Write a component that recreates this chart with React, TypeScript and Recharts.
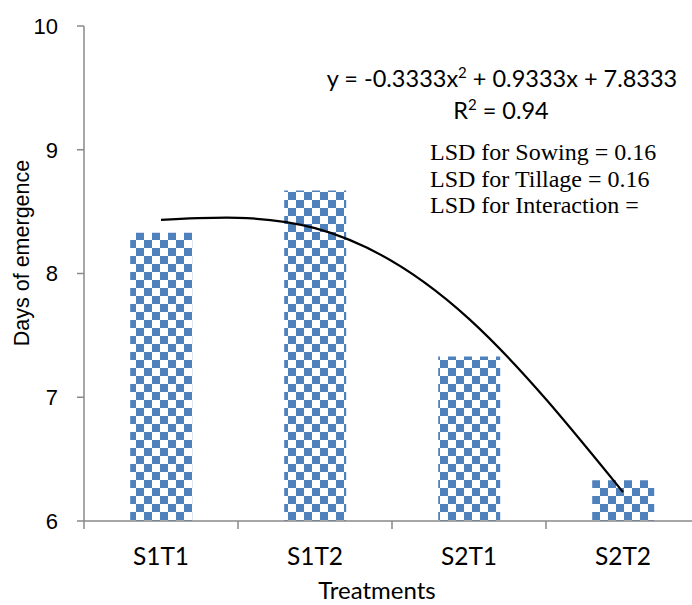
import React from 'react';
import {
  ComposedChart,
  Bar,
  Line,
  XAxis,
  YAxis,
  Customized,
} from 'recharts';

// treatment combinations (sowing x tillage)
const treatments = ['S1T1', 'S1T2', 'S2T1', 'S2T2'];
// mean days to emergence
const daysToEmergence = [8.33, 8.67, 7.33, 6.33];
// polynomial trend y = -0.3333x² + 0.9333x + 7.8333 at x = 1..4
const trendValues = [8.4333, 8.3667, 7.6333, 6.2333];
const yTicks = [6, 7, 8, 9, 10];

const lsdLines = [
  'LSD for Sowing = 0.16',
  'LSD for Tillage = 0.16',
  'LSD for Interaction =',
];

const data = treatments.map((name, i) => ({
  name,
  days: daysToEmergence[i],
  trend: trendValues[i],
}));

const CHART_W = 720;
const CHART_H = 605;
const Y_AXIS_W = 84;
const MARGIN = { top: 26, right: 20, left: 0, bottom: 0 };
const BAND = (CHART_W - Y_AXIS_W - MARGIN.left - MARGIN.right) / treatments.length;

const AXIS_GREY = '#898989';
const BAR_BLUE = '#4F81BD';
const SANS = 'Lato, "Open Sans", sans-serif';
const ARIAL = '"Liberation Sans", Arial, sans-serif';
const SERIF = '"Liberation Serif", "Times New Roman", serif';

// category label centred in its band, tick marks on the band edges
const CategoryTick = (props: any) => {
  const { x, y, payload, index, visibleTicksCount } = props;
  const left = x - BAND / 2;
  const isLast = index === visibleTicksCount - 1;
  return (
    <g>
      <line x1={left} y1={y} x2={left} y2={y + 8} stroke={AXIS_GREY} strokeWidth={1.5} />
      {isLast && (
        <line x1={left + BAND} y1={y} x2={left + BAND} y2={y + 8} stroke={AXIS_GREY} strokeWidth={1.5} />
      )}
      <text x={x} y={y + 44} textAnchor="middle" fontFamily={SANS} fontSize={24.5} fill="#000">
        {payload.value}
      </text>
    </g>
  );
};

const Annotations = () => (
  <g>
    <text x={502} y={87} textAnchor="middle" fontFamily={SANS} fontSize={23.5} fill="#000">
      y = -0.3333x<tspan fontSize={15} dy={-9}>2</tspan>
      <tspan dy={9}> + 0.9333x + 7.8333</tspan>
    </text>
    <text x={501} y={119} textAnchor="middle" fontFamily={SANS} fontSize={23.5} fill="#000">
      R<tspan fontSize={15} dy={-9}>2</tspan>
      <tspan dy={9}> = 0.94</tspan>
    </text>
    {lsdLines.map((t, i) => (
      <text key={t} x={430} y={160 + i * 26.5} fontFamily={SERIF} fontSize={24} fill="#000">
        {t}
      </text>
    ))}
    <text
      x={22}
      y={253}
      transform="rotate(-90 22 253)"
      textAnchor="middle"
      dominantBaseline="central"
      fontFamily={ARIAL}
      fontSize={21.5}
      fill="#000"
    >
      Days of emergence
    </text>
    <text x={377} y={599} textAnchor="middle" fontFamily={SANS} fontSize={24} fill="#000">
      Treatments
    </text>
  </g>
);

export default function App() {
  return (
    <div
      style={{
        position: 'fixed',
        left: 0,
        top: 0,
        width: 692,
        height: 605,
        overflow: 'hidden',
        background: '#fff',
      }}
    >
      <ComposedChart width={CHART_W} height={CHART_H} data={data} margin={MARGIN} barCategoryGap="30%">
        <defs>
          <pattern id="checker" width={16} height={16} patternUnits="userSpaceOnUse">
            <rect width={16} height={16} fill="#fff" />
            <rect x={0} y={0} width={8} height={8} fill={BAR_BLUE} />
            <rect x={8} y={8} width={8} height={8} fill={BAR_BLUE} />
          </pattern>
        </defs>
        <XAxis
          dataKey="name"
          height={CHART_H - MARGIN.top - 495}
          axisLine={{ stroke: AXIS_GREY, strokeWidth: 1.5 }}
          tickLine={false}
          tickSize={0}
          tickMargin={0}
          tick={<CategoryTick />}
          interval={0}
        />
        <YAxis
          width={Y_AXIS_W}
          domain={[6, 10]}
          ticks={yTicks}
          allowDataOverflow
          axisLine={{ stroke: AXIS_GREY, strokeWidth: 1.5 }}
          tickLine={{ stroke: AXIS_GREY, strokeWidth: 1.5 }}
          tickSize={7}
          tickMargin={19}
          tick={{ fontSize: 22, fill: '#000', fontFamily: ARIAL }}
        />
        <Bar dataKey="days" fill="url(#checker)" isAnimationActive={false} />
        <Line
          dataKey="trend"
          type="natural"
          stroke="#000"
          strokeWidth={2.2}
          dot={false}
          activeDot={false}
          isAnimationActive={false}
        />
        <Customized component={<Annotations />} />
      </ComposedChart>
    </div>
  );
}
